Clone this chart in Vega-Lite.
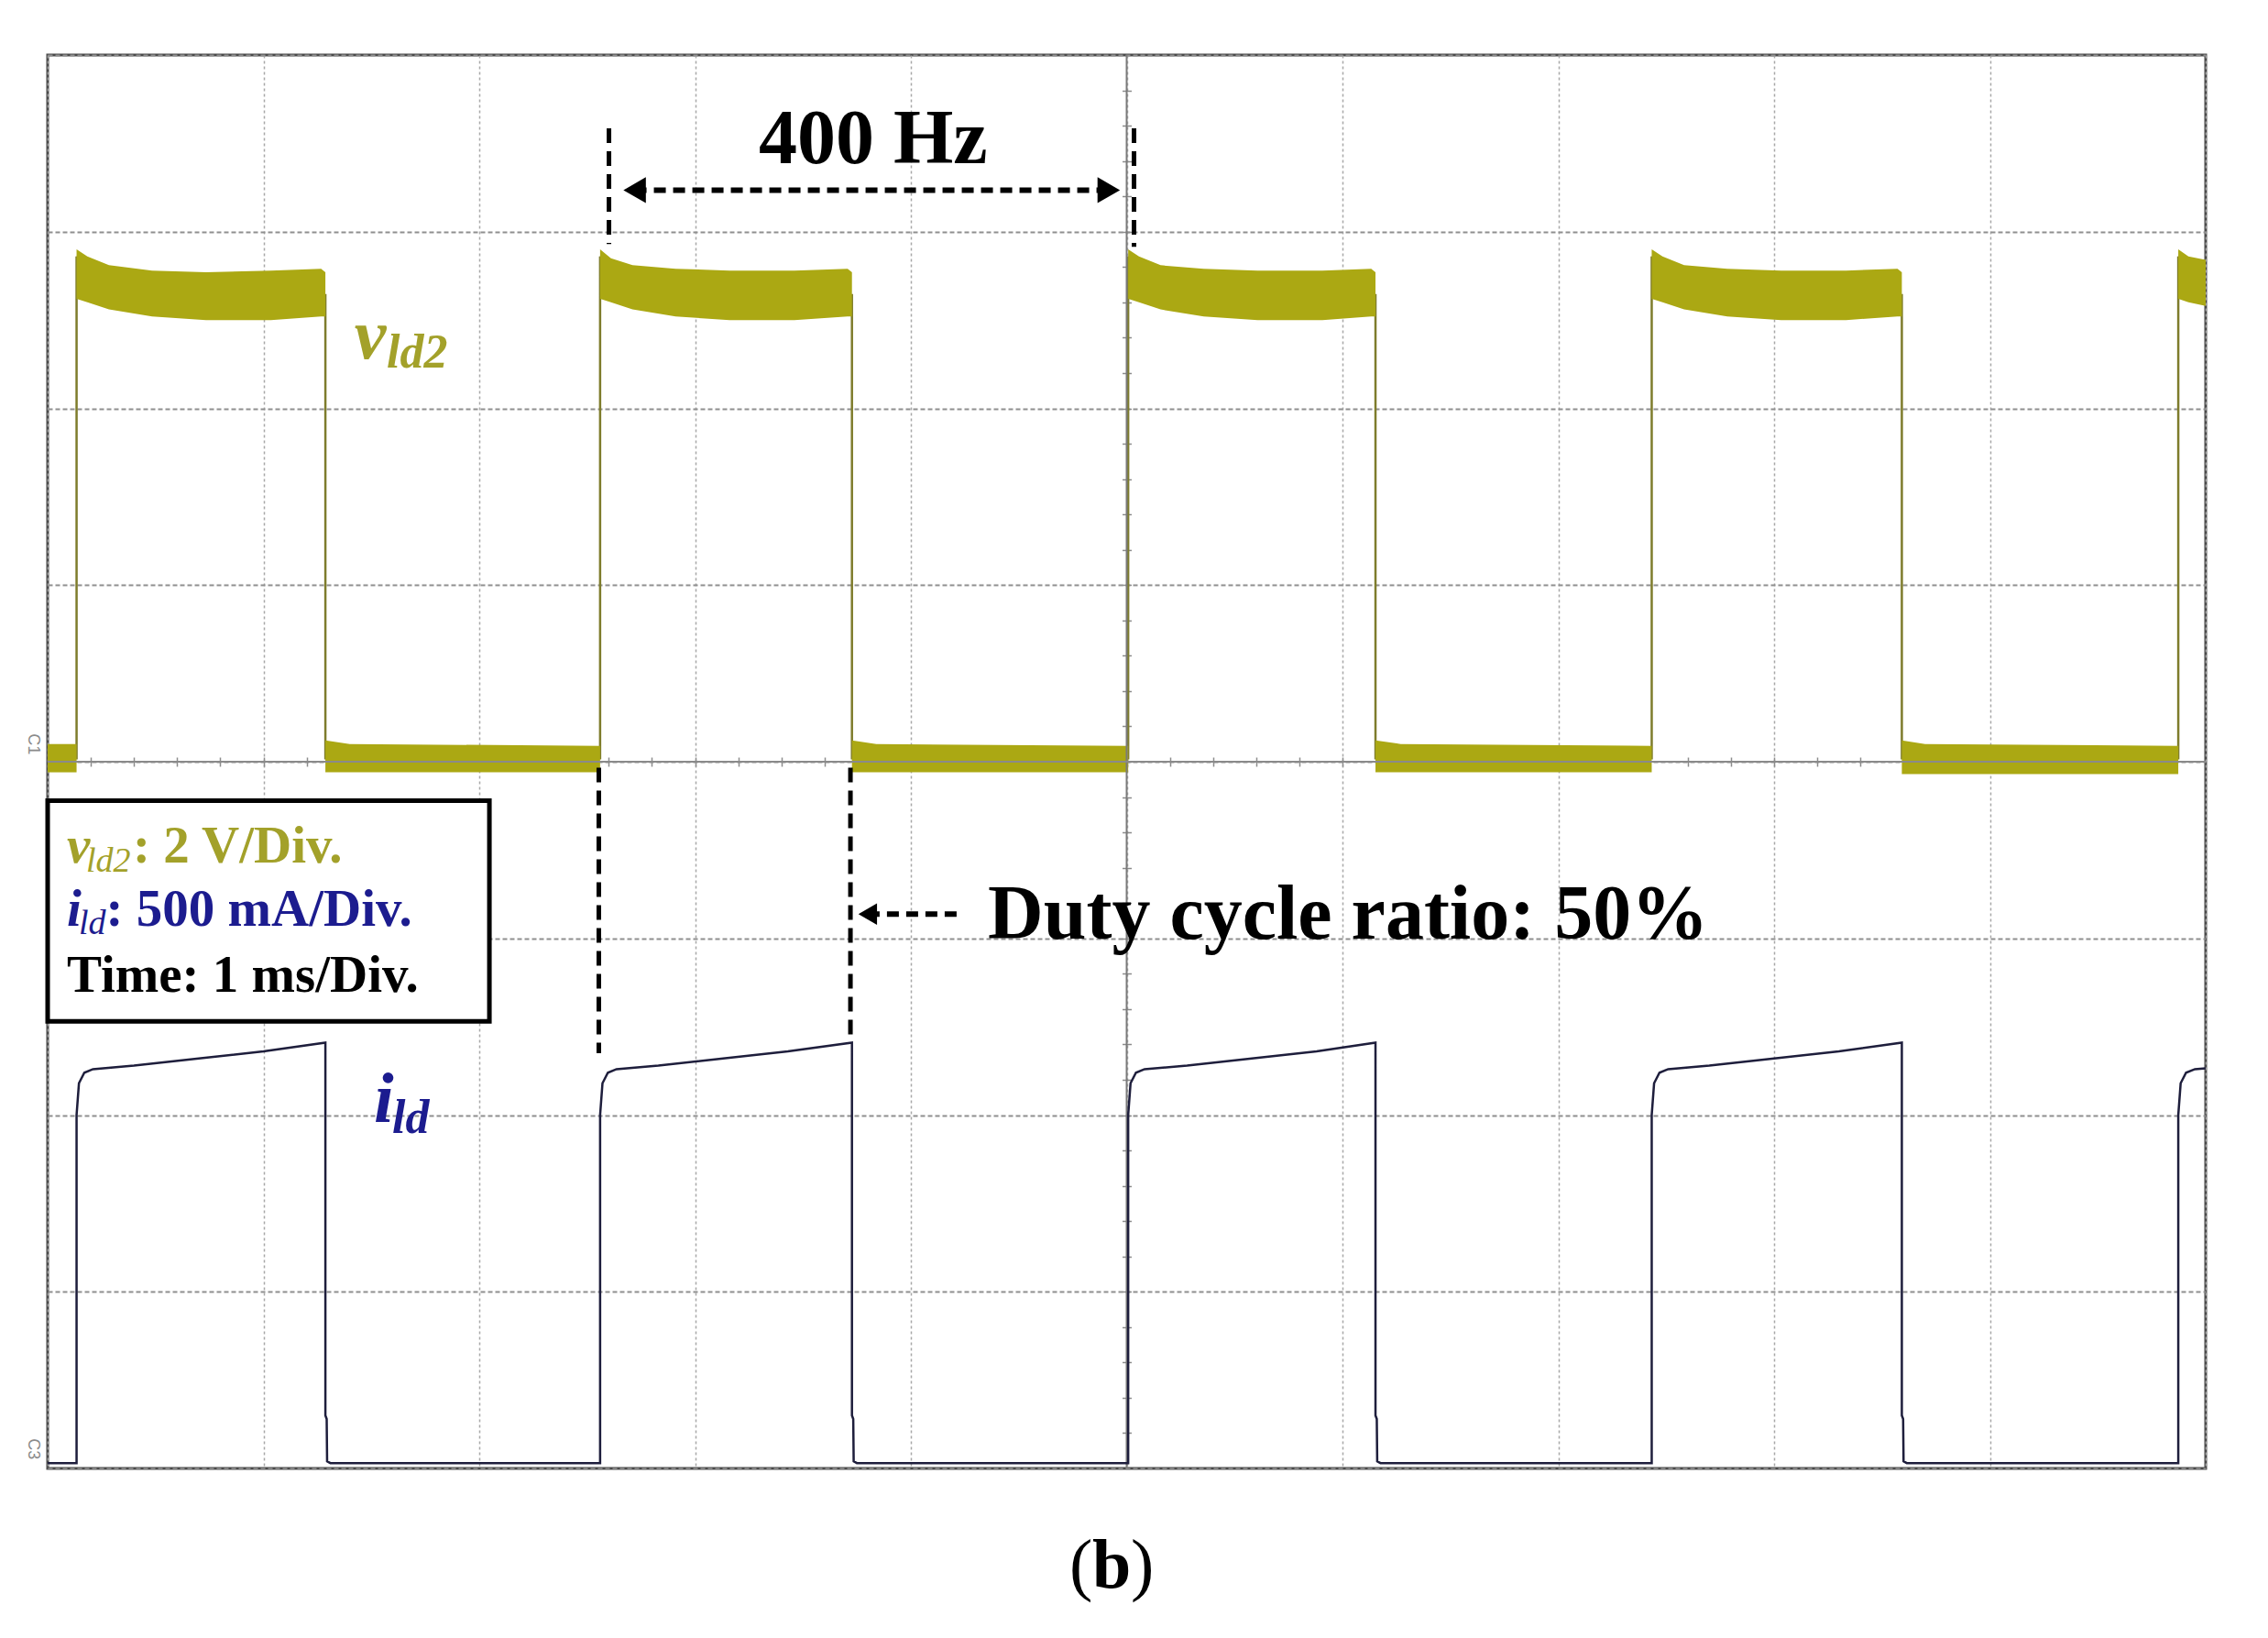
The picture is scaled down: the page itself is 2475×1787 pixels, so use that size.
{
  "$schema": "https://vega.github.io/schema/vega-lite/v6.json",
  "width": 2355,
  "height": 1542,
  "autosize": {"type": "none"},
  "padding": {"left": 52, "top": 60, "right": 68, "bottom": 185},
  "background": "white",
  "config": {"view": {"stroke": "#4a4a4a", "strokeWidth": 3}},
  "resolve": {"axis": {"x": "independent", "y": "independent"}},
  "datasets": {
    "vband": [
      {"seg": "l", "t": 0, "lo": 3.94, "hi": 4.1},
      {"seg": "l", "t": 0.134, "lo": 3.94, "hi": 4.1},
      {"seg": "h0", "t": 0.134, "lo": 6.62, "hi": 6.9},
      {"seg": "h0", "t": 0.184, "lo": 6.6, "hi": 6.86},
      {"seg": "h0", "t": 0.284, "lo": 6.56, "hi": 6.81},
      {"seg": "h0", "t": 0.484, "lo": 6.52, "hi": 6.78},
      {"seg": "h0", "t": 0.734, "lo": 6.5, "hi": 6.77},
      {"seg": "h0", "t": 1.034, "lo": 6.5, "hi": 6.78},
      {"seg": "h0", "t": 1.267, "lo": 6.52, "hi": 6.79},
      {"seg": "h0", "t": 1.287, "lo": 6.52, "hi": 6.77},
      {"seg": "l0", "t": 1.287, "lo": 3.94, "hi": 4.12},
      {"seg": "l0", "t": 1.4, "lo": 3.94, "hi": 4.1},
      {"seg": "l0", "t": 2.56, "lo": 3.94, "hi": 4.09},
      {"seg": "h1", "t": 2.56, "lo": 6.62, "hi": 6.9},
      {"seg": "h1", "t": 2.61, "lo": 6.6, "hi": 6.85},
      {"seg": "h1", "t": 2.71, "lo": 6.56, "hi": 6.81},
      {"seg": "h1", "t": 2.91, "lo": 6.52, "hi": 6.79},
      {"seg": "h1", "t": 3.16, "lo": 6.5, "hi": 6.78},
      {"seg": "h1", "t": 3.46, "lo": 6.5, "hi": 6.78},
      {"seg": "h1", "t": 3.707, "lo": 6.52, "hi": 6.79},
      {"seg": "h1", "t": 3.727, "lo": 6.52, "hi": 6.77},
      {"seg": "l1", "t": 3.727, "lo": 3.94, "hi": 4.12},
      {"seg": "l1", "t": 3.84, "lo": 3.94, "hi": 4.1},
      {"seg": "l1", "t": 5.007, "lo": 3.94, "hi": 4.09},
      {"seg": "h2", "t": 5.007, "lo": 6.62, "hi": 6.9},
      {"seg": "h2", "t": 5.057, "lo": 6.6, "hi": 6.86},
      {"seg": "h2", "t": 5.157, "lo": 6.56, "hi": 6.81},
      {"seg": "h2", "t": 5.357, "lo": 6.52, "hi": 6.79},
      {"seg": "h2", "t": 5.607, "lo": 6.5, "hi": 6.78},
      {"seg": "h2", "t": 5.907, "lo": 6.5, "hi": 6.78},
      {"seg": "h2", "t": 6.133, "lo": 6.52, "hi": 6.79},
      {"seg": "h2", "t": 6.153, "lo": 6.52, "hi": 6.77},
      {"seg": "l2", "t": 6.153, "lo": 3.94, "hi": 4.12},
      {"seg": "l2", "t": 6.27, "lo": 3.94, "hi": 4.1},
      {"seg": "l2", "t": 7.433, "lo": 3.94, "hi": 4.09},
      {"seg": "h3", "t": 7.433, "lo": 6.62, "hi": 6.9},
      {"seg": "h3", "t": 7.483, "lo": 6.6, "hi": 6.86},
      {"seg": "h3", "t": 7.583, "lo": 6.56, "hi": 6.81},
      {"seg": "h3", "t": 7.783, "lo": 6.52, "hi": 6.79},
      {"seg": "h3", "t": 8.033, "lo": 6.5, "hi": 6.78},
      {"seg": "h3", "t": 8.333, "lo": 6.5, "hi": 6.78},
      {"seg": "h3", "t": 8.572, "lo": 6.52, "hi": 6.79},
      {"seg": "h3", "t": 8.592, "lo": 6.52, "hi": 6.77},
      {"seg": "l3", "t": 8.592, "lo": 3.93, "hi": 4.12},
      {"seg": "l3", "t": 8.7, "lo": 3.93, "hi": 4.1},
      {"seg": "l3", "t": 9.873, "lo": 3.93, "hi": 4.09},
      {"seg": "h4", "t": 9.873, "lo": 6.62, "hi": 6.9},
      {"seg": "h4", "t": 9.92, "lo": 6.6, "hi": 6.86},
      {"seg": "h4", "t": 10, "lo": 6.58, "hi": 6.84}
    ],
    "vline": [
      {"i": 0, "t": 0, "v": 4.02}, {"i": 1, "t": 0.134, "v": 4.02}, {"i": 2, "t": 0.134, "v": 6.86},
      {"i": 3, "t": 0.16, "v": 6.74}, {"i": 4, "t": 0.4, "v": 6.66}, {"i": 5, "t": 0.8, "v": 6.63},
      {"i": 6, "t": 1.287, "v": 6.64}, {"i": 7, "t": 1.287, "v": 4.02}, {"i": 8, "t": 2.56, "v": 4.02},
      {"i": 9, "t": 2.56, "v": 6.86}, {"i": 10, "t": 2.586, "v": 6.74}, {"i": 11, "t": 2.826, "v": 6.66},
      {"i": 12, "t": 3.226, "v": 6.63}, {"i": 13, "t": 3.727, "v": 6.64}, {"i": 14, "t": 3.727, "v": 4.02},
      {"i": 15, "t": 5.007, "v": 4.02}, {"i": 16, "t": 5.007, "v": 6.86}, {"i": 17, "t": 5.033, "v": 6.74},
      {"i": 18, "t": 5.273, "v": 6.66}, {"i": 19, "t": 5.673, "v": 6.63}, {"i": 20, "t": 6.153, "v": 6.64},
      {"i": 21, "t": 6.153, "v": 4.02}, {"i": 22, "t": 7.433, "v": 4.02}, {"i": 23, "t": 7.433, "v": 6.86},
      {"i": 24, "t": 7.459, "v": 6.74}, {"i": 25, "t": 7.699, "v": 6.66}, {"i": 26, "t": 8.099, "v": 6.63},
      {"i": 27, "t": 8.592, "v": 6.64}, {"i": 28, "t": 8.592, "v": 4.02}, {"i": 29, "t": 9.873, "v": 4.02},
      {"i": 30, "t": 9.873, "v": 6.86}, {"i": 31, "t": 9.899, "v": 6.74}, {"i": 32, "t": 10, "v": 6.7}
    ],
    "ild": [
      {"i": 0, "t": 0, "a": 0.03}, {"i": 1, "t": 0.134, "a": 0.03}, {"i": 2, "t": 0.134, "a": 2.0},
      {"i": 3, "t": 0.145, "a": 2.18}, {"i": 4, "t": 0.17, "a": 2.24}, {"i": 5, "t": 0.21, "a": 2.26},
      {"i": 6, "t": 0.4, "a": 2.28}, {"i": 7, "t": 0.7, "a": 2.32}, {"i": 8, "t": 1.0, "a": 2.36},
      {"i": 9, "t": 1.287, "a": 2.41}, {"i": 10, "t": 1.287, "a": 0.3}, {"i": 11, "t": 1.293, "a": 0.28}, {"i": 12, "t": 1.295, "a": 0.04},
      {"i": 13, "t": 1.31, "a": 0.03}, {"i": 14, "t": 2.56, "a": 0.03}, {"i": 15, "t": 2.56, "a": 2.0},
      {"i": 16, "t": 2.571, "a": 2.18}, {"i": 17, "t": 2.596, "a": 2.24}, {"i": 18, "t": 2.636, "a": 2.26},
      {"i": 19, "t": 2.83, "a": 2.28}, {"i": 20, "t": 3.13, "a": 2.32}, {"i": 21, "t": 3.43, "a": 2.36},
      {"i": 22, "t": 3.727, "a": 2.41}, {"i": 23, "t": 3.727, "a": 0.3}, {"i": 24, "t": 3.733, "a": 0.28}, {"i": 25, "t": 3.735, "a": 0.04},
      {"i": 26, "t": 3.75, "a": 0.03}, {"i": 27, "t": 5.007, "a": 0.03}, {"i": 28, "t": 5.007, "a": 2.0},
      {"i": 29, "t": 5.018, "a": 2.18}, {"i": 30, "t": 5.043, "a": 2.24}, {"i": 31, "t": 5.083, "a": 2.26},
      {"i": 32, "t": 5.28, "a": 2.28}, {"i": 33, "t": 5.58, "a": 2.32}, {"i": 34, "t": 5.88, "a": 2.36},
      {"i": 35, "t": 6.153, "a": 2.41}, {"i": 36, "t": 6.153, "a": 0.3}, {"i": 37, "t": 6.159, "a": 0.28}, {"i": 38, "t": 6.161, "a": 0.04},
      {"i": 39, "t": 6.176, "a": 0.03}, {"i": 40, "t": 7.433, "a": 0.03}, {"i": 41, "t": 7.433, "a": 2.0},
      {"i": 42, "t": 7.444, "a": 2.18}, {"i": 43, "t": 7.469, "a": 2.24}, {"i": 44, "t": 7.509, "a": 2.26},
      {"i": 45, "t": 7.7, "a": 2.28}, {"i": 46, "t": 8.0, "a": 2.32}, {"i": 47, "t": 8.3, "a": 2.36},
      {"i": 48, "t": 8.592, "a": 2.41}, {"i": 49, "t": 8.592, "a": 0.3}, {"i": 50, "t": 8.598, "a": 0.28}, {"i": 51, "t": 8.6, "a": 0.04},
      {"i": 52, "t": 8.615, "a": 0.03}, {"i": 53, "t": 9.873, "a": 0.03}, {"i": 54, "t": 9.873, "a": 2.0},
      {"i": 55, "t": 9.884, "a": 2.18}, {"i": 56, "t": 9.909, "a": 2.24}, {"i": 57, "t": 9.95, "a": 2.26},
      {"i": 58, "t": 10.0, "a": 2.265}
    ],
    "box": [{"x": 0, "x2": 2.047, "y": 3.78, "y2": 2.53}],
    "vrules": [
      {"x": 2.601, "y": 7.585, "y2": 6.93},
      {"x": 5.034, "y": 7.585, "y2": 6.915},
      {"x": 2.554, "y": 3.966, "y2": 2.35},
      {"x": 3.72, "y": 3.966, "y2": 2.43}
    ],
    "hrules": [
      {"x": 2.72, "x2": 4.917, "y": 7.235},
      {"x": 3.8, "x2": 4.238, "y": 3.137}
    ],
    "heads": [
      {"x": 2.72, "y": 7.235, "dir": "l", "sz": "big"},
      {"x": 4.917, "y": 7.235, "dir": "r", "sz": "big"},
      {"x": 3.8, "y": 3.137, "dir": "l", "sz": "small"}
    ],
    "bigtext": [
      {"x": 3.295, "y": 7.39, "label": "400 Hz"},
      {"x": 4.357, "y": 3.0, "label": "Duty cycle ratio: 50%"}
    ],
    "legmain": [
      {"x": 0.395, "y": 3.43, "label": ": 2 V/Div.", "s": "v"},
      {"x": 0.27, "y": 3.069, "label": ": 500 mA/Div.", "s": "i"},
      {"x": 0.089, "y": 2.696, "label": "Time: 1 ms/Div.", "s": "k"}
    ],
    "legsym": [
      {"x": 0.089, "y": 3.43, "label": "v", "s": "v"},
      {"x": 0.089, "y": 3.069, "label": "i", "s": "i"}
    ],
    "legsub": [
      {"x": 0.178, "y": 3.38, "label": "ld2", "s": "v"},
      {"x": 0.144, "y": 3.027, "label": "ld", "s": "i"}
    ],
    "trsym": [
      {"x": 1.421, "y": 6.283, "label": "v", "s": "v"},
      {"x": 1.512, "y": 1.96, "label": "i", "s": "i"}
    ],
    "trsub": [
      {"x": 1.571, "y": 6.23, "label": "ld2", "s": "v"},
      {"x": 1.597, "y": 1.897, "label": "ld", "s": "i"}
    ],
    "chan": [
      {"x": -0.07, "y": 4.1, "label": "C1"},
      {"x": -0.07, "y": 0.11, "label": "C3"}
    ],
    "paren": [
      {"x": 4.735, "y": -0.674, "label": "("},
      {"x": 5.019, "y": -0.674, "label": ")"}
    ],
    "bold_b": [
      {"x": 4.841, "y": -0.674, "label": "b"}
    ]
  },
  "layer": [
    {
      "data": {"name": "vline"},
      "mark": {"type": "line", "color": "#7E7C2C", "strokeWidth": 2.5},
      "encoding": {
        "x": {"field": "t", "type": "quantitative", "scale": {"domain": [0, 10], "nice": false, "zero": false},
          "axis": {"orient": "bottom", "offset": -776, "values": [0.2,0.4,0.6,0.8,1,1.2,1.4,1.6,1.8,2,2.2,2.4,2.6,2.8,3,3.2,3.4,3.6,3.8,4,4.2,4.4,4.6,4.8,5,5.2,5.4,5.6,5.8,6,6.2,6.4,6.6,6.8,7,7.2,7.4,7.6,7.8,8,8.2,8.4,8.6,8.8,9,9.2,9.4,9.6,9.8], "tickSize": 10, "tickWidth": 1.5, "tickColor": "#8c8c8c", "labels": false, "domain": false, "grid": false, "title": null}},
        "y": {"field": "v", "type": "quantitative", "scale": {"domain": [0, 8], "nice": false, "zero": false},
          "axis": {"orient": "left", "offset": -1182.5, "values": [0.2,0.4,0.6,0.8,1,1.2,1.4,1.6,1.8,2,2.2,2.4,2.6,2.8,3,3.2,3.4,3.6,3.8,4,4.2,4.4,4.6,4.8,5,5.2,5.4,5.6,5.8,6,6.2,6.4,6.6,6.8,7,7.2,7.4,7.6,7.8], "tickSize": 10, "tickWidth": 1.5, "tickColor": "#8c8c8c", "labels": false, "domain": false, "grid": false, "title": null}},
        "order": {"field": "i", "type": "quantitative"}
      }
    },
    {
      "data": {"name": "vband"},
      "mark": {"type": "area", "color": "#ABA813", "opacity": 1},
      "encoding": {
        "x": {"field": "t", "type": "quantitative", "scale": {"domain": [0, 10], "nice": false, "zero": false},
          "axis": {"orient": "bottom", "values": [0, 1, 2, 3, 4, 5, 6, 7, 8, 9, 10], "grid": true, "gridColor": "#a8a8a8", "gridDash": [3, 3], "gridWidth": 1.5, "labels": false, "ticks": false, "domain": false, "title": null}},
        "y": {"field": "lo", "type": "quantitative", "scale": {"domain": [0, 8], "nice": false, "zero": false},
          "axis": {"orient": "left", "values": [0, 1, 2, 3, 4, 5, 6, 7, 8], "grid": true, "gridColor": "#8f8f8f", "gridDash": [5, 3], "gridWidth": 2, "labels": false, "ticks": false, "domain": false, "title": null}},
        "y2": {"field": "hi"},
        "detail": {"field": "seg", "type": "nominal"}
      }
    },
    {
      "data": {"values": [{}]},
      "mark": {"type": "rule", "color": "#7a7a7a", "strokeWidth": 2},
      "encoding": {"x": {"datum": 5, "type": "quantitative", "scale": {"domain": [0, 10], "nice": false, "zero": false}, "axis": null}}
    },
    {
      "data": {"values": [{}]},
      "mark": {"type": "rule", "color": "#8a8a8a", "strokeWidth": 2},
      "encoding": {"y": {"datum": 4, "type": "quantitative", "scale": {"domain": [0, 8], "nice": false, "zero": false}, "axis": null}}
    },
    {
      "data": {"name": "ild"},
      "mark": {"type": "line", "color": "#1E1E3C", "strokeWidth": 2.5},
      "encoding": {
        "x": {"field": "t", "type": "quantitative", "scale": {"domain": [0, 10], "nice": false, "zero": false}, "axis": null},
        "y": {"field": "a", "type": "quantitative", "scale": {"domain": [0, 8], "nice": false, "zero": false}, "axis": null},
        "order": {"field": "i", "type": "quantitative"}
      }
    },
    {
      "data": {"name": "box"},
      "mark": {"type": "rect", "fill": "white", "stroke": "black", "strokeWidth": 5},
      "encoding": {
        "x": {"field": "x", "type": "quantitative", "scale": {"domain": [0, 10], "nice": false, "zero": false}, "axis": null},
        "x2": {"field": "x2"},
        "y": {"field": "y", "type": "quantitative", "scale": {"domain": [0, 8], "nice": false, "zero": false}, "axis": null},
        "y2": {"field": "y2"}
      }
    },
    {
      "data": {"name": "vrules"},
      "mark": {"type": "rule", "color": "black", "strokeWidth": 5, "strokeDash": [16, 9]},
      "encoding": {
        "x": {"field": "x", "type": "quantitative", "scale": {"domain": [0, 10], "nice": false, "zero": false}, "axis": null},
        "y": {"field": "y", "type": "quantitative", "scale": {"domain": [0, 8], "nice": false, "zero": false}, "axis": null},
        "y2": {"field": "y2"}
      }
    },
    {
      "data": {"name": "hrules"},
      "mark": {"type": "rule", "color": "black", "strokeWidth": 6, "strokeDash": [13, 8]},
      "encoding": {
        "x": {"field": "x", "type": "quantitative", "scale": {"domain": [0, 10], "nice": false, "zero": false}, "axis": null},
        "x2": {"field": "x2"},
        "y": {"field": "y", "type": "quantitative", "scale": {"domain": [0, 8], "nice": false, "zero": false}, "axis": null}
      }
    },
    {
      "data": {"name": "heads"},
      "mark": {"type": "point", "filled": true, "color": "black", "opacity": 1},
      "encoding": {
        "x": {"field": "x", "type": "quantitative", "scale": {"domain": [0, 10], "nice": false, "zero": false}, "axis": null},
        "y": {"field": "y", "type": "quantitative", "scale": {"domain": [0, 8], "nice": false, "zero": false}, "axis": null},
        "shape": {"field": "dir", "type": "nominal", "scale": {"domain": ["l", "r"], "range": ["triangle-left", "triangle-right"]}, "legend": null},
        "size": {"field": "sz", "type": "nominal", "scale": {"domain": ["big", "small"], "range": [800, 550]}, "legend": null}
      }
    },
    {
      "data": {"name": "bigtext"},
      "mark": {"type": "text", "align": "left", "baseline": "alphabetic", "font": "Liberation Serif", "fontSize": 84, "fontWeight": "bold", "color": "black"},
      "encoding": {
        "x": {"field": "x", "type": "quantitative", "scale": {"domain": [0, 10], "nice": false, "zero": false}, "axis": null},
        "y": {"field": "y", "type": "quantitative", "scale": {"domain": [0, 8], "nice": false, "zero": false}, "axis": null},
        "text": {"field": "label"}
      }
    },
    {
      "data": {"name": "legmain"},
      "mark": {"type": "text", "align": "left", "baseline": "alphabetic", "font": "Liberation Serif", "fontSize": 57, "fontWeight": "bold"},
      "encoding": {
        "x": {"field": "x", "type": "quantitative", "scale": {"domain": [0, 10], "nice": false, "zero": false}, "axis": null},
        "y": {"field": "y", "type": "quantitative", "scale": {"domain": [0, 8], "nice": false, "zero": false}, "axis": null},
        "text": {"field": "label"},
        "color": {"field": "s", "type": "nominal", "scale": {"domain": ["v", "i", "k"], "range": ["#A3A12A", "#1C1C8F", "#000000"]}, "legend": null}
      }
    },
    {
      "data": {"name": "legsym"},
      "mark": {"type": "text", "align": "left", "baseline": "alphabetic", "font": "Liberation Serif", "fontSize": 57, "fontWeight": "bold", "fontStyle": "italic"},
      "encoding": {
        "x": {"field": "x", "type": "quantitative", "scale": {"domain": [0, 10], "nice": false, "zero": false}, "axis": null},
        "y": {"field": "y", "type": "quantitative", "scale": {"domain": [0, 8], "nice": false, "zero": false}, "axis": null},
        "text": {"field": "label"},
        "color": {"field": "s", "type": "nominal", "scale": {"domain": ["v", "i", "k"], "range": ["#A3A12A", "#1C1C8F", "#000000"]}, "legend": null}
      }
    },
    {
      "data": {"name": "legsub"},
      "mark": {"type": "text", "align": "left", "baseline": "alphabetic", "font": "Liberation Serif", "fontSize": 38, "fontStyle": "italic"},
      "encoding": {
        "x": {"field": "x", "type": "quantitative", "scale": {"domain": [0, 10], "nice": false, "zero": false}, "axis": null},
        "y": {"field": "y", "type": "quantitative", "scale": {"domain": [0, 8], "nice": false, "zero": false}, "axis": null},
        "text": {"field": "label"},
        "color": {"field": "s", "type": "nominal", "scale": {"domain": ["v", "i", "k"], "range": ["#A3A12A", "#1C1C8F", "#000000"]}, "legend": null}
      }
    },
    {
      "data": {"name": "trsym"},
      "mark": {"type": "text", "align": "left", "baseline": "alphabetic", "font": "Liberation Serif", "fontSize": 78, "fontWeight": "bold", "fontStyle": "italic"},
      "encoding": {
        "x": {"field": "x", "type": "quantitative", "scale": {"domain": [0, 10], "nice": false, "zero": false}, "axis": null},
        "y": {"field": "y", "type": "quantitative", "scale": {"domain": [0, 8], "nice": false, "zero": false}, "axis": null},
        "text": {"field": "label"},
        "color": {"field": "s", "type": "nominal", "scale": {"domain": ["v", "i", "k"], "range": ["#A3A12A", "#1C1C8F", "#000000"]}, "legend": null}
      }
    },
    {
      "data": {"name": "trsub"},
      "mark": {"type": "text", "align": "left", "baseline": "alphabetic", "font": "Liberation Serif", "fontSize": 52, "fontWeight": "bold", "fontStyle": "italic"},
      "encoding": {
        "x": {"field": "x", "type": "quantitative", "scale": {"domain": [0, 10], "nice": false, "zero": false}, "axis": null},
        "y": {"field": "y", "type": "quantitative", "scale": {"domain": [0, 8], "nice": false, "zero": false}, "axis": null},
        "text": {"field": "label"},
        "color": {"field": "s", "type": "nominal", "scale": {"domain": ["v", "i", "k"], "range": ["#A3A12A", "#1C1C8F", "#000000"]}, "legend": null}
      }
    },
    {
      "data": {"name": "chan"},
      "mark": {"type": "text", "align": "center", "baseline": "middle", "font": "Liberation Sans", "fontSize": 18, "angle": 90, "color": "#8a8a8a"},
      "encoding": {
        "x": {"field": "x", "type": "quantitative", "scale": {"domain": [0, 10], "nice": false, "zero": false}, "axis": null},
        "y": {"field": "y", "type": "quantitative", "scale": {"domain": [0, 8], "nice": false, "zero": false}, "axis": null},
        "text": {"field": "label"}
      }
    },
    {
      "data": {"name": "paren"},
      "mark": {"type": "text", "align": "left", "baseline": "alphabetic", "font": "Liberation Serif", "fontSize": 76, "color": "black"},
      "encoding": {
        "x": {"field": "x", "type": "quantitative", "scale": {"domain": [0, 10], "nice": false, "zero": false}, "axis": null},
        "y": {"field": "y", "type": "quantitative", "scale": {"domain": [0, 8], "nice": false, "zero": false}, "axis": null},
        "text": {"field": "label"}
      }
    },
    {
      "data": {"name": "bold_b"},
      "mark": {"type": "text", "align": "left", "baseline": "alphabetic", "font": "Liberation Serif", "fontSize": 76, "fontWeight": "bold", "color": "black"},
      "encoding": {
        "x": {"field": "x", "type": "quantitative", "scale": {"domain": [0, 10], "nice": false, "zero": false}, "axis": null},
        "y": {"field": "y", "type": "quantitative", "scale": {"domain": [0, 8], "nice": false, "zero": false}, "axis": null},
        "text": {"field": "label"}
      }
    }
  ]
}
